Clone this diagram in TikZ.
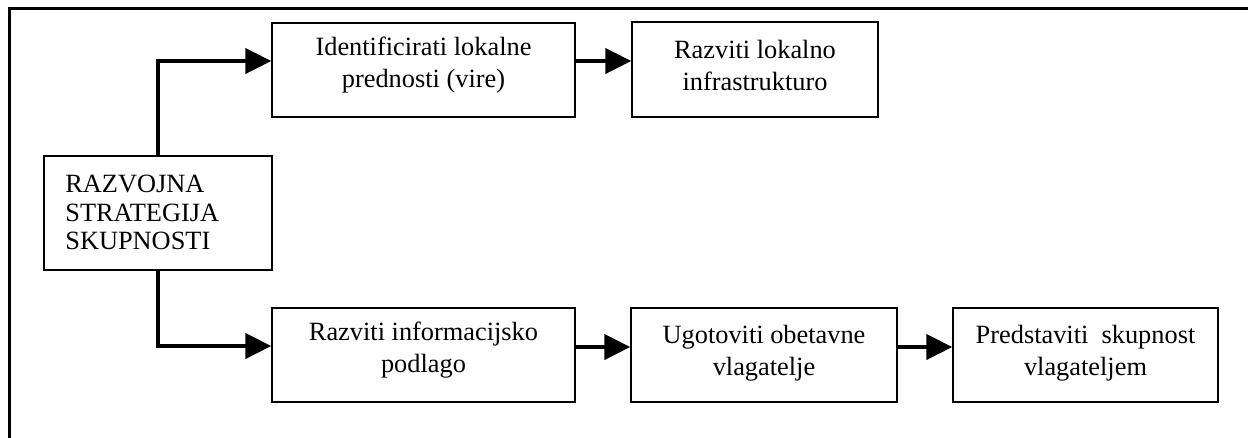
\documentclass[tikz,border=0pt]{standalone}
\usepackage{fontspec}
\setmainfont{Liberation Serif}
\usetikzlibrary{arrows.meta,calc}
\begin{document}
\begin{tikzpicture}[x=0.02cm,y=-0.02cm,
  box/.style={draw, line width=0.85pt, inner sep=0, rectangle},
  boxtext/.style={inner sep=0, anchor=north, align=center,
    font=\fontsize{15}{18.1}\selectfont},
  headtext/.style={inner sep=0, anchor=north west, align=left,
    font=\fontsize{15}{16.4}\selectfont},
  arr/.style={line width=2.27pt, -{Triangle[length=14.7pt,width=14.2pt]}},
  frame/.style={line width=1.8pt}]
\useasboundingbox (0,0) rectangle (1248,437);

% open outer frame
\draw[frame] (9.5,470) -- (9.5,8.5) -- (1280,8.5);

% boxes
\node[box, minimum width=4.56cm, minimum height=2.28cm] (m) at (158,213) {};
\node[box, minimum width=6.06cm, minimum height=1.88cm] (b1) at (423.5,70) {};
\node[box, minimum width=4.92cm, minimum height=1.90cm] (b2) at (755,69.5) {};
\node[box, minimum width=6.06cm, minimum height=1.88cm] (b3) at (423.5,355) {};
\node[box, minimum width=5.32cm, minimum height=1.88cm] (b4) at (764,355) {};
\node[box, minimum width=5.30cm, minimum height=1.88cm] (b5) at (1085.5,355) {};

% texts
\node[headtext] (mt) at (65,174.5) {RAZVOJNA\\STRATEGIJA\\SKUPNOSTI};
\node[boxtext] (b1t) at (423.5,37) {Identificirati lokalne\\prednosti (vire)};
\node[boxtext] (b2t) at (755,40) {Razviti lokalno\\infrastrukturo};
\node[boxtext] (b3t) at (423.5,322) {Razviti informacijsko\\podlago};
\node[boxtext] (b4t) at (764,325) {Ugotoviti obetavne\\vlagatelje};
\node[boxtext] (b5t) at (1085.5,325) {Predstaviti\ \ skupnost\\vlagateljem};

% connectors
\draw[arr] (m.north) |- ($(b1.west)+(0,-9)$);
\draw[arr] (m.south) |- ($(b3.west)+(0,-9)$);
\draw[arr] ($(b1.east)+(0,-9)$) -- ($(b2.west)+(0,-8.5)$);
\draw[arr] ($(b3.east)+(0,-8)$) -- ($(b4.west)+(0,-8)$);
\draw[arr] ($(b4.east)+(0,-8)$) -- ($(b5.west)+(0,-8)$);
\end{tikzpicture}
\end{document}
